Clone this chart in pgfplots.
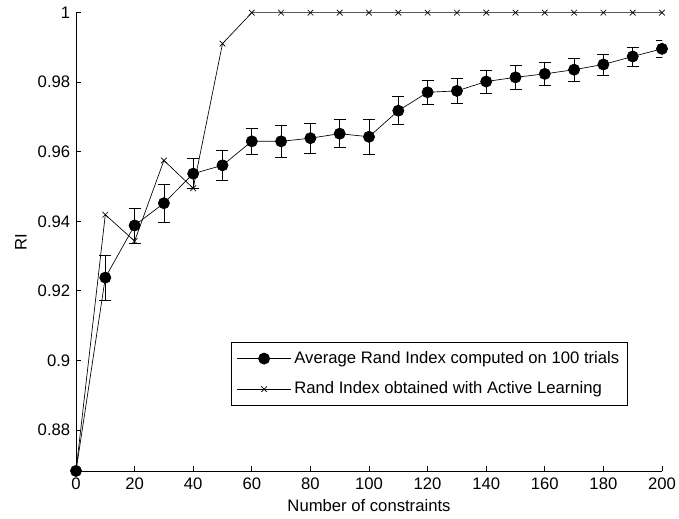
\documentclass[border=0pt]{standalone}
\usepackage{pgfplots}
\pgfplotsset{compat=1.18}
\usepackage{fontspec}
\setmainfont{Liberation Sans}
\begin{document}
\fontsize{12.5}{14.5}\selectfont
\begin{tikzpicture}
\useasboundingbox (-57pt,-36pt) rectangle (452.25pt,353.2pt);
\begin{axis}[
  scale only axis,
  width=439.5pt, height=343.7pt,
  xmin=0, xmax=200, ymin=0.8682, ymax=1,
  axis x line*=bottom, axis y line*=left,
  axis line style={-, line width=0.5pt},
  tick align=inside,
  major tick length=4pt,
  tick style={line width=0.5pt, black},
  xtick={0,20,...,200},
  ytick={0.88,0.9,0.92,0.94,0.96,0.98,1},
  yticklabels={0.88,0.9,0.92,0.94,0.96,0.98,1},
  /pgf/number format/assume math mode=true,
  tick label style={font=\fontsize{12.5}{14.5}\selectfont},
  xticklabel style={yshift=-1pt},
  xlabel={Number of constraints},
  ylabel={RI},
  xlabel style={at={(axis description cs:0.5,-0.0766)}, anchor=center, font=\fontsize{12.5}{14.5}\selectfont},
  ylabel style={at={(axis description cs:-0.094,0.5)}, anchor=center, rotate=0, font=\fontsize{12.5}{14.5}\selectfont},
  legend style={at={(0.9415,0.2808)}, anchor=north east, draw=black, line width=0.6pt,
    font=\fontsize{12.5}{14.5}\selectfont, inner xsep=4pt, inner ysep=4.5pt, row sep=8pt, cells={anchor=west}},
  legend image code/.code={\draw[mark repeat=2,mark phase=2,#1] plot coordinates {(0cm,0cm) (0.72cm,0cm) (1.44cm,0cm)};},
]
\addplot[black, line width=0.5pt, mark=*, mark size=4.2pt, mark options={solid, fill=black},
  error bars/.cd, y dir=both, y explicit,
  error bar style={line width=0.5pt, black},
  error mark options={rotate=90, mark size=4.5pt, line width=0.5pt, black}]
coordinates {
(0,0.8682) +- (0,0)
(10,0.9238) +- (0,0.0065)
(20,0.9388) +- (0,0.0050)
(30,0.9452) +- (0,0.0054)
(40,0.9537) +- (0,0.0043)
(50,0.9561) +- (0,0.0042)
(60,0.9630) +- (0,0.0038)
(70,0.9630) +- (0,0.0045)
(80,0.9639) +- (0,0.0043)
(90,0.9652) +- (0,0.0040)
(100,0.9643) +- (0,0.0049)
(110,0.9718) +- (0,0.0040)
(120,0.9771) +- (0,0.0035)
(130,0.9775) +- (0,0.0037)
(140,0.9802) +- (0,0.0033)
(150,0.9814) +- (0,0.0034)
(160,0.9824) +- (0,0.0033)
(170,0.9836) +- (0,0.0033)
(180,0.9851) +- (0,0.0030)
(190,0.9874) +- (0,0.0027)
(200,0.9896) +- (0,0.0025)
};
\addlegendentry{Average Rand Index computed on 100 trials}
\addplot[black, line width=0.5pt, mark=x, mark size=3pt, mark options={solid}]
coordinates {
(0,0.8682) (10,0.9419) (20,0.9343) (30,0.9575) (40,0.9495) (50,0.9911)
(60,1) (70,1) (80,1) (90,1) (100,1) (110,1) (120,1) (130,1) (140,1)
(150,1) (160,1) (170,1) (180,1) (190,1) (200,1)
};
\addlegendentry{Rand Index obtained with Active Learning}
\end{axis}
\end{tikzpicture}
\end{document}
